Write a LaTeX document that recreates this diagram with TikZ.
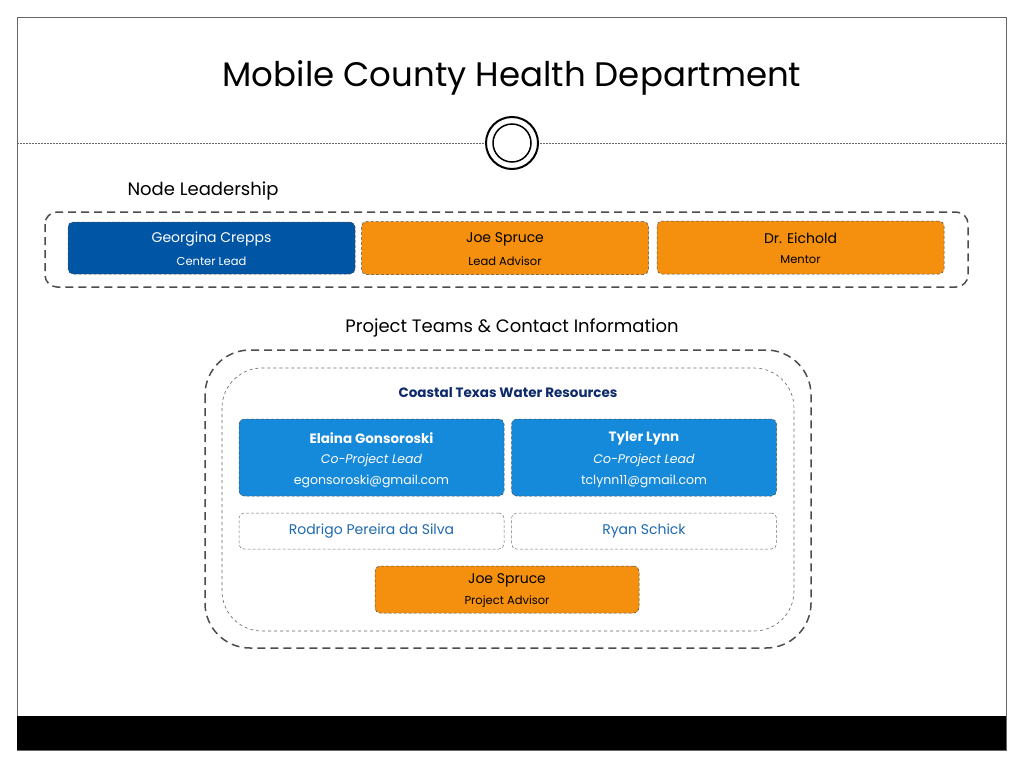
\documentclass[tikz,border=0pt]{standalone}
\usepackage{fontspec}
\setmainfont{Poppins}
\begin{document}
\begin{tikzpicture}[x=1pt,y=-1pt,
 box/.style={draw=black!70,densely dashed,line width=0.5pt,rounded corners=5pt,align=center,inner sep=0pt},
 lead/.style={box,fill=blue1,text=white,minimum width=287pt,minimum height=52pt},
 orng/.style={box,fill=orng1,text=black,minimum width=287pt,minimum height=53pt},
 team/.style={box,fill=blue2,text=white,minimum width=265pt,minimum height=77pt},
 memb/.style={box,fill=white,text=memtxt,draw=black!55,minimum width=265pt,minimum height=36pt,font=\fontsize{14}{16}\selectfont},
 nm/.style={font=\fontsize{14}{16}\selectfont},
 rl/.style={font=\fontsize{11.5}{14}\selectfont}]
\definecolor{blue1}{HTML}{0055A5}
\definecolor{blue2}{HTML}{1589DA}
\definecolor{orng1}{HTML}{F5900F}
\definecolor{navy}{HTML}{0D2A6B}
\definecolor{memtxt}{HTML}{1F6AB0}
\useasboundingbox (0,0) rectangle (1024,768);
\fill[white] (0,0) rectangle (1024,768);
\draw[black!60,line width=0.8pt] (17,17) rectangle (1006,750);
\fill[black] (17,716) rectangle (1006,750);
\node (title) at (512,78) {\fontsize{34}{40}\selectfont Mobile County Health Department};
\draw[black!60,dashed,dash pattern=on 2pt off 1pt] (17,143) -- (484,143) (540,143) -- (1006,143);
\node[circle,draw=black,line width=2pt,minimum size=52pt,inner sep=0pt] (ring) at (512,143) {};
\node[circle,draw=black,line width=1.5pt,minimum size=38pt,inner sep=0pt] (ring2) at (512,143) {};
\node[anchor=west] (nl) at (124,191) {\fontsize{18}{20}\selectfont Node Leadership};
\draw[black!70,dashed,line width=1.5pt,dash pattern=on 8pt off 5pt,rounded corners=12pt] (45,212) rectangle (968,287);
\node[lead] (gc) at (211.5,248) {};
\node[nm,text=white] (gcn) at (211.5,239) {Georgina Crepps};
\node[rl,text=white] (gcr) at (211.5,261) {Center Lead};
\node[orng] (js) at (505,248) {};
\node[nm] (jsn) at (505,239) {Joe Spruce};
\node[rl] (jsr) at (505,261) {Lead Advisor};
\node[orng] (de) at (800.5,247.5) {};
\node[nm] (den) at (800.5,238) {Dr. Eichold};
\node[rl] (der) at (800.5,260) {Mentor};
\node (pt) at (512,328) {\fontsize{18}{20}\selectfont Project Teams \& Contact Information};
\draw[black!70,dashed,line width=1.5pt,dash pattern=on 8pt off 5pt,rounded corners=45pt] (205,350) rectangle (811,648);
\draw[black!60,dashed,line width=0.6pt,rounded corners=40pt] (222,368) rectangle (794,631);
\node[text=navy,font=\bfseries\fontsize{13.5}{16}\selectfont] (ctw) at (508,393) {Coastal Texas Water Resources};
\node[team] (eg) at (371.5,457.5) {};
\node[nm,text=white,font=\bfseries\fontsize{13.5}{16}\selectfont] (egn) at (371.5,438) {Elaina Gonsoroski};
\node[rl,text=white,font=\itshape\fontsize{12.5}{14}\selectfont] (egr) at (371.5,460) {Co-Project Lead};
\node[rl,text=white,font=\fontsize{12.5}{14}\selectfont] (ege) at (371.5,481) {egonsoroski@gmail.com};
\node[team] (tl) at (644,457.5) {};
\node[nm,text=white,font=\bfseries\fontsize{13.5}{16}\selectfont] (tln) at (644,438) {Tyler Lynn};
\node[rl,text=white,font=\itshape\fontsize{12.5}{14}\selectfont] (tlr) at (644,460) {Co-Project Lead};
\node[rl,text=white,font=\fontsize{12.5}{14}\selectfont] (tle) at (644,481) {tclynn11@gmail.com};
\node[memb] (rp) at (371.5,531) {Rodrigo Pereira da Silva};
\node[memb] (rs) at (644,531) {Ryan Schick};
\node[orng,minimum width=264pt,minimum height=47pt] (js2) at (507,589.5) {};
\node[nm] (js2n) at (507,580) {Joe Spruce};
\node[rl] (js2r) at (507,602) {Project Advisor};
\end{tikzpicture}
\end{document}
